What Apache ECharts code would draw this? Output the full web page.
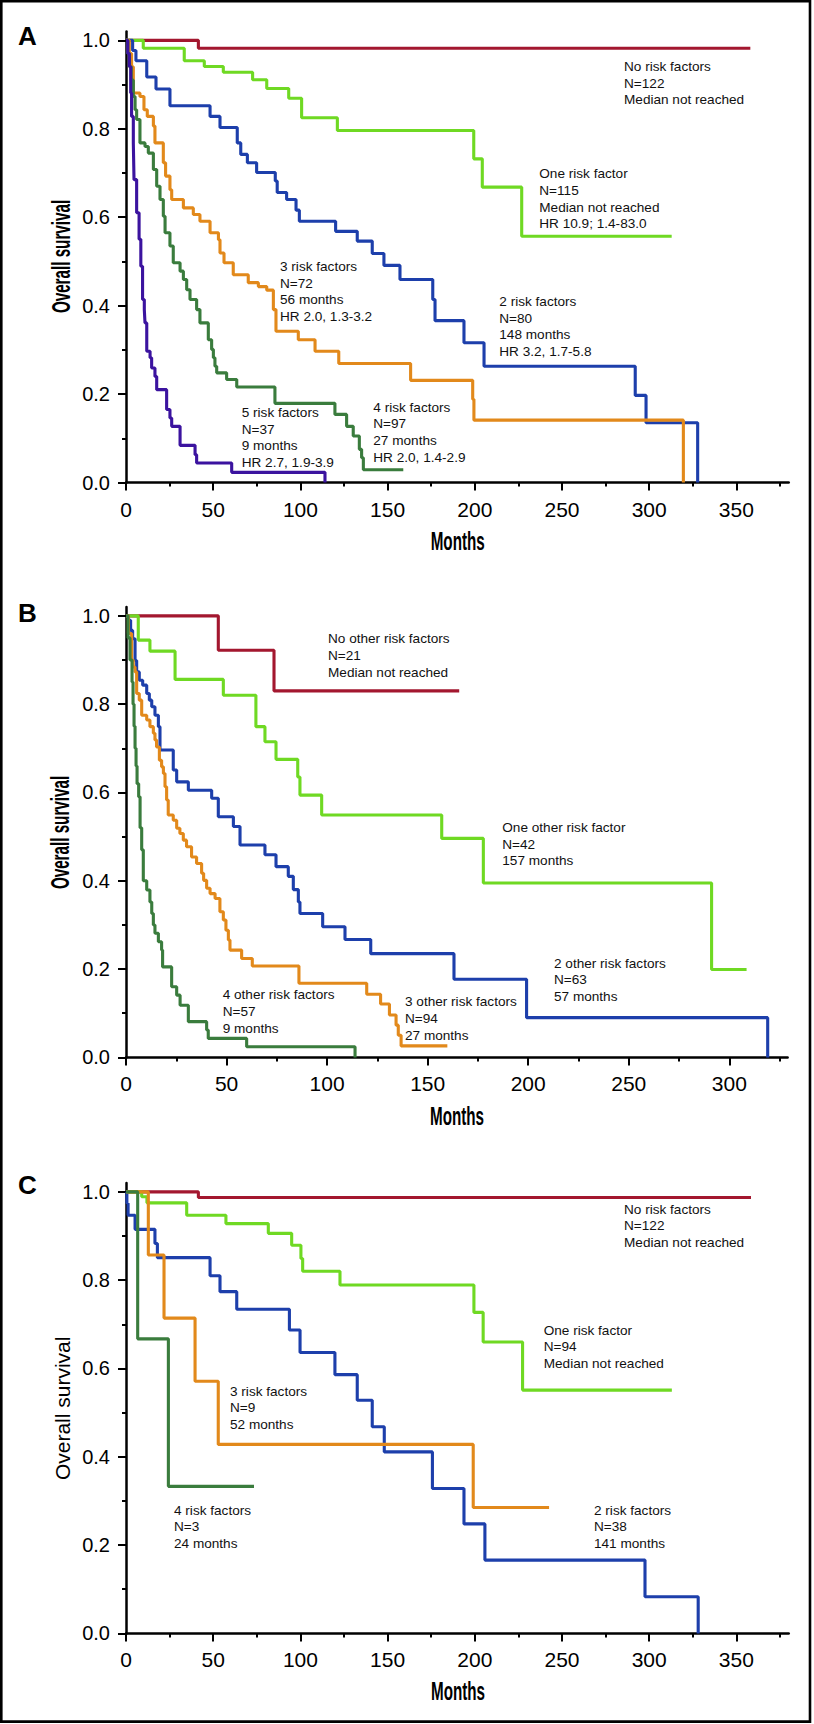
<!DOCTYPE html>
<html><head><meta charset="utf-8">
<script src="https://cdn.jsdelivr.net/npm/echarts@6/dist/echarts.min.js"></script>
<style>html,body{margin:0;padding:0;background:#fff}#c{width:814px;height:1724px}</style>
</head><body><div id="c"></div>
<script>
// ================= DATA =================
const panelLetters = ['A', 'B', 'C'];
const yAxisTitle = 'Overall survival';
const xAxisTitle = 'Months';
const yMajorTicks = [0, 0.2, 0.4, 0.6, 0.8, 1.0];
const yMinorTicks = [0.1, 0.3, 0.5, 0.7, 0.9];
const xMajorTicksAC = [0, 50, 100, 150, 200, 250, 300, 350];
const xMinorTicksAC = [25, 75, 125, 175, 225, 275, 325, 375];
const xMajorTicksB = [0, 50, 100, 150, 200, 250, 300];
const xMinorTicksB = [25, 75, 125, 175, 225, 275, 325];

// Panel A  [month, survival]
const A_none = [[0,1],[41.5,0.982],[358,0.982]];
const A_one = [[0,1],[9.9,0.982],[33.4,0.954],[44.9,0.941],[55.8,0.928],[72.6,0.911],[80.7,0.891],[93.3,0.869],[100.7,0.825],[121.2,0.796],[199.4,0.732],[204.3,0.668],[226.9,0.557],[312.9,0.557]];
const A_two = [[0,1],[3.8,0.977],[5.7,0.954],[11.9,0.917],[17.2,0.890],[25.2,0.852],[48.2,0.828],[53.9,0.803],[63.8,0.768],[65.8,0.742],[69.6,0.723],[74.9,0.701],[85.6,0.682],[86.7,0.656],[92.1,0.640],[97.5,0.616],[99.4,0.591],[120.2,0.568],[132.6,0.546],[141.2,0.518],[147.9,0.491],[157.1,0.459],[175.9,0.414],[177.2,0.366],[193.8,0.316],[205.3,0.263],[292,0.197],[298.2,0.135],[327.8,0]];
const A_three = [[0,1],[1.9,0.97],[3.2,0.94],[4.2,0.881],[8.0,0.873],[10.3,0.843],[12.2,0.828],[15.7,0.806],[16.6,0.768],[21.4,0.723],[22.7,0.693],[25.2,0.662],[26.2,0.640],[32.9,0.621],[38.6,0.606],[42.4,0.591],[48.2,0.565],[53.0,0.549],[53.9,0.519],[56.2,0.497],[61.5,0.470],[70.1,0.452],[75.9,0.443],[80.7,0.435],[84.5,0.391],[86.0,0.342],[98.8,0.323],[108.4,0.297],[122.0,0.269],[163.2,0.231],[198.8,0.188],[199.5,0.141],[319.6,0]];
const A_four = [[0,1],[1,0.97],[2,0.94],[3,0.91],[4.2,0.873],[5.2,0.843],[6.1,0.821],[8.0,0.768],[10.9,0.760],[12.8,0.745],[15.7,0.708],[17.6,0.670],[19.5,0.640],[21.4,0.602],[22.4,0.565],[25.2,0.535],[27.1,0.497],[31.0,0.478],[32.9,0.459],[34.8,0.436],[36.7,0.414],[40.5,0.391],[42.4,0.361],[47.2,0.323],[49.1,0.301],[50.1,0.282],[51.0,0.263],[52.0,0.248],[57.7,0.233],[63.5,0.216],[85.4,0.179],[119.8,0.154],[126.5,0.127],[130.3,0.105],[133.8,0.075],[135.1,0.056],[136.1,0.029],[159.0,0.029]];
const A_five = [[0,1],[1,0.97],[1.9,0.941],[2.7,0.881],[3.2,0.828],[4.2,0.768],[4.6,0.685],[6.1,0.610],[7.5,0.550],[8.5,0.489],[9.5,0.414],[10.5,0.391],[10.9,0.361],[11.9,0.297],[13.8,0.282],[14.7,0.259],[16.6,0.240],[17.6,0.210],[23.3,0.165],[25.2,0.146],[26.2,0.127],[31.0,0.084],[39.6,0.063],[40.5,0.044],[60.6,0.023],[114.1,0]];

// Panel B
const B_none = [[0,1],[45.9,0.922],[73.6,0.830],[165.7,0.830]];
const B_one = [[0,1],[6.1,0.945],[11.9,0.920],[24.4,0.856],[48.4,0.820],[64.6,0.749],[69.1,0.715],[74.6,0.675],[85.4,0.635],[86.5,0.594],[97.3,0.549],[157.0,0.496],[177.7,0.395],[291.2,0.199],[308.6,0.199]];
const B_two = [[0,1],[1.2,0.99],[2.3,0.967],[3.3,0.948],[4.5,0.899],[5.3,0.873],[6.6,0.854],[8.3,0.843],[10.3,0.824],[11.6,0.809],[12.8,0.794],[14.4,0.775],[16.1,0.749],[16.9,0.696],[23.5,0.651],[25.2,0.624],[31.0,0.605],[42.6,0.587],[45.9,0.545],[53.4,0.523],[56.7,0.481],[69.1,0.459],[74.6,0.432],[80.7,0.410],[83.2,0.380],[85.7,0.352],[86.5,0.326],[97.8,0.296],[108.9,0.267],[121.7,0.235],[163.1,0.177],[199.2,0.090],[319.1,0]];
const B_three = [[0,1],[1.2,0.96],[2.8,0.90],[3.6,0.884],[4.5,0.873],[5.3,0.824],[6.6,0.809],[7.8,0.775],[10.3,0.764],[11.9,0.749],[13.6,0.734],[14.4,0.719],[15.2,0.703],[16.6,0.673],[17.7,0.658],[18.6,0.643],[19.4,0.613],[20.2,0.583],[21.0,0.549],[23.5,0.537],[25.2,0.519],[26.8,0.507],[28.5,0.492],[30.1,0.477],[32.6,0.454],[35.1,0.439],[37.6,0.417],[38.6,0.401],[40.1,0.383],[41.8,0.371],[44.3,0.360],[46.7,0.330],[48.4,0.311],[49.7,0.288],[50.9,0.266],[51.7,0.243],[57.5,0.224],[62.8,0.207],[86.0,0.168],[119.7,0.143],[126.6,0.121],[131.0,0.096],[134.3,0.073],[135.4,0.050],[136.8,0.026],[159.8,0.026]];
const B_four = [[0,1],[1,0.95],[2,0.90],[3,0.85],[3.5,0.80],[4,0.75],[4.5,0.70],[5,0.66],[5.5,0.62],[6.3,0.59],[7,0.52],[7.8,0.47],[8.6,0.40],[10.3,0.379],[11.9,0.352],[12.8,0.326],[13.6,0.30],[14.4,0.281],[16.1,0.262],[17.7,0.243],[18.2,0.205],[22.7,0.16],[25.2,0.141],[26.9,0.118],[31.0,0.081],[40.1,0.062],[40.9,0.043],[60.0,0.024],[113.9,0]];

// Panel C
const C_none = [[0,1],[41.5,0.987],[358.4,0.987]];
const C_one = [[0,1],[9.0,0.989],[12.0,0.975],[34.8,0.947],[57.3,0.928],[81.6,0.906],[95.0,0.879],[100.3,0.849],[101.3,0.820],[122.7,0.789],[199.5,0.727],[204.8,0.660],[227.4,0.551],[313.0,0.551]];
const C_two = [[0,1],[0.5,0.974],[1.2,0.947],[5.2,0.915],[16.6,0.883],[18.0,0.851],[48.2,0.810],[53.9,0.774],[63.5,0.734],[93.7,0.687],[99.8,0.636],[119.8,0.586],[132.6,0.528],[141.2,0.468],[148.1,0.411],[175.7,0.328],[193.8,0.248],[205.8,0.166],[297.6,0.083],[328.1,0]];
const C_three = [[0,1],[12.8,0.857],[21.8,0.714],[39.6,0.571],[52.9,0.428],[199.1,0.285],[242.6,0.285]];
const C_four = [[0,1],[6.7,0.667],[24.3,0.333],[73.4,0.333]];

// Annotation texts
const notesA = [
  ['No risk factors', 'N=122', 'Median not reached'],
  ['One risk factor', 'N=115', 'Median not reached', 'HR 10.9; 1.4-83.0'],
  ['2 risk factors', 'N=80', '148 months', 'HR 3.2, 1.7-5.8'],
  ['3 risk factors', 'N=72', '56 months', 'HR 2.0, 1.3-3.2'],
  ['4 risk factors', 'N=97', '27 months', 'HR 2.0, 1.4-2.9'],
  ['5 risk factors', 'N=37', '9 months', 'HR 2.7, 1.9-3.9']
];
const notesB = [
  ['No other risk factors', 'N=21', 'Median not reached'],
  ['One other risk factor', 'N=42', '157 months'],
  ['2 other risk factors', 'N=63', '57 months'],
  ['3 other risk factors', 'N=94', '27 months'],
  ['4 other risk factors', 'N=57', '9 months']
];
const notesC = [
  ['No risk factors', 'N=122', 'Median not reached'],
  ['One risk factor', 'N=94', 'Median not reached'],
  ['3 risk factors', 'N=9', '52 months'],
  ['4 risk factors', 'N=3', '24 months'],
  ['2 risk factors', 'N=38', '141 months']
];

// ================= LAYOUT / STYLE =================
const FONT = '"Liberation Sans", Arial, Helvetica, sans-serif';
const COL = {
  red: '#a3172f', lime: '#6fd923', blue: '#1d3fab',
  orange: '#e2891b', dgreen: '#3a7c3d', purple: '#3b139f'
};
const grids = [
  { left: 126, top: 31.5, width: 662.7, height: 451 },
  { left: 126, top: 607, width: 661.6, height: 450.4 },
  { left: 126, top: 1183, width: 662.7, height: 450.4 }
];
const xMax = [380, 329, 380];
const xMaj = [xMajorTicksAC, xMajorTicksB, xMajorTicksAC];
const xMin = [xMinorTicksAC, xMinorTicksB, xMinorTicksAC];

const panelSeries = [
  [[A_none, COL.red], [A_one, COL.lime], [A_two, COL.blue], [A_three, COL.orange], [A_four, COL.dgreen], [A_five, COL.purple]],
  [[B_none, COL.red], [B_one, COL.lime], [B_two, COL.blue], [B_three, COL.orange], [B_four, COL.dgreen]],
  [[C_none, COL.red], [C_one, COL.lime], [C_two, COL.blue], [C_three, COL.orange], [C_four, COL.dgreen]]
];

const xAxes = [], yAxes = [], series = [];
grids.forEach((g, i) => {
  xAxes.push({
    gridIndex: i, type: 'value', min: 0, max: xMax[i], position: 'bottom',
    axisLine: { show: true, onZero: false, lineStyle: { color: '#000', width: 2.5 } },
    axisTick: { show: true, length: 8, inside: false, customValues: xMaj[i], lineStyle: { color: '#000', width: 2 } },
    axisLabel: { show: true, customValues: xMaj[i], margin: 16, fontSize: 21, color: '#000', fontFamily: FONT },
    splitLine: { show: false }
  });
  xAxes.push({
    gridIndex: i, type: 'value', min: 0, max: xMax[i], position: 'bottom',
    axisLine: { show: false },
    axisTick: { show: true, length: 4, inside: false, customValues: xMin[i], lineStyle: { color: '#000', width: 2 } },
    axisLabel: { show: false }, splitLine: { show: false }
  });
  yAxes.push({
    gridIndex: i, type: 'value', min: 0, max: 1.02, position: 'left',
    axisLine: { show: true, onZero: false, lineStyle: { color: '#000', width: 2.5 } },
    axisTick: { show: true, length: 8, inside: false, customValues: yMajorTicks, lineStyle: { color: '#000', width: 2 } },
    axisLabel: { show: true, customValues: yMajorTicks, margin: 16, fontSize: 20, color: '#000', fontFamily: FONT,
      formatter: v => Number(v).toFixed(1) },
    splitLine: { show: false }
  });
  yAxes.push({
    gridIndex: i, type: 'value', min: 0, max: 1.02, position: 'left',
    axisLine: { show: false },
    axisTick: { show: true, length: 4, inside: false, customValues: yMinorTicks, lineStyle: { color: '#000', width: 2 } },
    axisLabel: { show: false }, splitLine: { show: false }
  });
  panelSeries[i].forEach(([data, color]) => {
    series.push({
      type: 'line', xAxisIndex: 2 * i, yAxisIndex: 2 * i, data: data, step: 'end',
      showSymbol: false, symbol: 'none', silent: true, animation: false,
      lineStyle: { color: color, width: 3.1 }, itemStyle: { color: color },
      emphasis: { disabled: true }
    });
  });
});

// graphic elements
const graphic = [];
graphic.push({ type: 'rect', silent: true, shape: { x: 1.3, y: 1.3, width: 808.7, height: 1720.3 },
  style: { fill: 'none', stroke: '#000', lineWidth: 2.6 } });

function txt(x, y, text, font, opts) {
  return Object.assign({
    type: 'text', x: x, y: y, silent: true,
    style: Object.assign({ text: text, font: font, fill: '#000',
      align: 'left', verticalAlign: 'middle', textAlign: 'left', textVerticalAlign: 'middle' }, (opts && opts.style) || {})
  }, (opts && opts.el) || {});
}
const letterPos = [[18, 36], [18, 612.5], [18, 1185]];
panelLetters.forEach((L, i) => graphic.push(txt(letterPos[i][0], letterPos[i][1], L, 'bold 26px ' + FONT)));

const ytPos = [[61.5, 256.5], [60.5, 832.5], [62.3, 1408.3]];
ytPos.forEach((p, i) => {
  const condensed = i < 2;
  graphic.push(txt(p[0], p[1], yAxisTitle, condensed ? 'bold 26px ' + FONT : '21px ' + FONT, {
    style: { align: 'center', textAlign: 'center' },
    el: { rotation: Math.PI / 2, scaleX: condensed ? 0.585 : 1 }
  }));
});
const xtPos = [[457.7, 541.7], [457, 1116.7], [458, 1691.7]];
xtPos.forEach(p => graphic.push(txt(p[0], p[1], xAxisTitle, 'bold 26px ' + FONT, {
  style: { align: 'center', textAlign: 'center' }, el: { scaleX: 0.585 }
})));

const LH = 16.6;
const NOTE_FONT = '13.6px ' + FONT;
const notePos = [
  [[624, 66.7], [539.3, 174], [499.3, 301.7], [280, 266.7], [373.3, 407.3], [241.7, 412.7]],
  [[328, 639], [502.3, 827.7], [554, 963.3], [405, 1002], [222.7, 995]],
  [[624, 1209.3], [543.7, 1330.3], [230, 1391.3], [174, 1510.3], [594, 1510.3]]
];
[notesA, notesB, notesC].forEach((notes, pi) => {
  notes.forEach((lines, k) => {
    const p = notePos[pi][k];
    graphic.push(txt(p[0], p[1] - LH / 2, lines.join('\n'), NOTE_FONT, {
      style: { lineHeight: LH, verticalAlign: 'top', textVerticalAlign: 'top', fill: '#111' }
    }));
  });
});

const chart = echarts.init(document.getElementById('c'), null, { renderer: 'svg', width: 814, height: 1724 });
chart.setOption({
  animation: false,
  backgroundColor: '#fff',
  grid: grids.map(g => Object.assign({ containLabel: false, outerBoundsMode: 'none' }, g)),
  xAxis: xAxes,
  yAxis: yAxes,
  series: series,
  graphic: { elements: graphic }
});
</script>
</body></html>
